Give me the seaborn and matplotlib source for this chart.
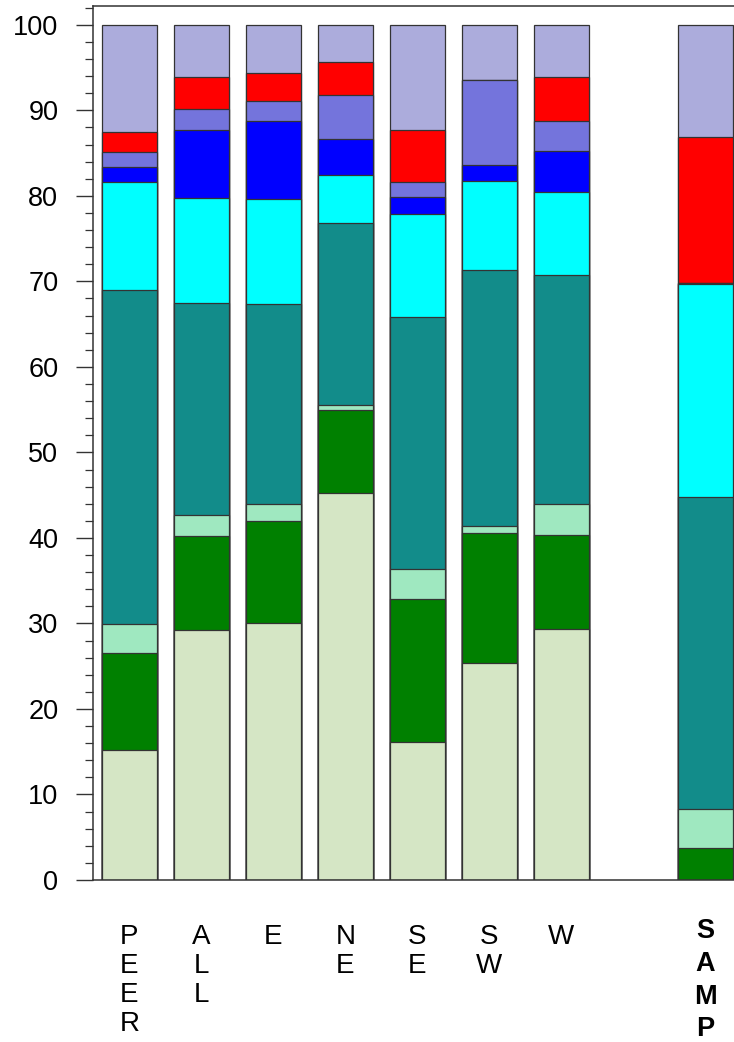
import numpy as np
import pandas as pd
import seaborn as sns
import matplotlib.pyplot as plt
from matplotlib.ticker import MultipleLocator
from matplotlib.transforms import ScaledTranslation

# categories and positions (gap before SAMP)
labels = ['PEER', 'ALL', 'E', 'NE', 'SE', 'SW', 'W', 'SAMP']
positions = [0, 1, 2, 3, 4, 5, 6, 8]

# segment sizes, bottom to top
s_lightgreen = [15.2, 29.2, 30.1, 45.2, 16.1, 25.4, 29.4, 0.0]
s_green      = [11.3, 11.0, 11.9, 9.8, 16.7, 15.2, 11.0, 3.7]
s_mint       = [3.4, 2.5, 2.0, 0.5, 3.6, 0.8, 3.6, 4.6]
s_teal       = [39.1, 24.8, 23.3, 21.3, 29.4, 29.9, 26.7, 36.5]
s_cyan       = [12.6, 12.3, 12.3, 5.6, 12.1, 10.4, 9.7, 24.9]
s_blue       = [1.8, 7.9, 9.1, 4.2, 2.0, 1.9, 4.9, 0.1]
s_slate      = [1.7, 2.5, 2.4, 5.2, 1.7, 9.9, 3.4, 0.0]
s_red        = [2.4, 3.7, 3.3, 3.8, 6.1, 0.0, 5.2, 17.1]
s_lavender   = [12.5, 6.1, 5.6, 4.4, 12.3, 6.5, 6.1, 13.1]

series = [s_lightgreen, s_green, s_mint, s_teal, s_cyan,
          s_blue, s_slate, s_red, s_lavender]
colors = ['#d5e6c5', '#008000', '#9fe8c0', '#128c8a', '#00ffff',
          '#0000ff', '#7474dc', '#ff0000', '#acacdc']

sns.set_style('white')
plt.rcParams['font.family'] = ['Liberation Sans', 'DejaVu Sans']
plt.rcParams['text.color'] = 'black'
plt.rcParams['xtick.color'] = 'black'
plt.rcParams['ytick.color'] = 'black'

fig = plt.figure(figsize=(7.34, 10.42), dpi=100)
ax = fig.add_axes([93 / 734, (1042 - 880) / 1042, (734 - 93) / 734, (880 - 6) / 1042])

# cumulative tops, drawn from the top layer down so lower layers overlay
tops = np.cumsum(np.array(series), axis=0)
for i in range(len(series) - 1, -1, -1):
    df = pd.DataFrame({'pos': positions, 'val': tops[i]})
    sns.barplot(data=df, x='pos', y='val', native_scale=True, width=0.76,
                color=colors[i], saturation=1, errorbar=None,
                edgecolor='#333333', linewidth=0.9, ax=ax)

ax.set_xlim(-0.507, 8.4)
ax.set_ylim(0, 102.2)
ax.set_xlabel('')
ax.set_ylabel('')

ax.yaxis.set_major_locator(MultipleLocator(10))
ax.yaxis.set_minor_locator(MultipleLocator(2))
ax.tick_params(axis='y', which='major', length=12, width=1, color='#333333',
               labelcolor='black', labelsize=19.5, pad=13, left=True)
ax.tick_params(axis='y', which='minor', length=6, width=0.9, color='#333333', left=True)

ax.set_xticks(positions)
ax.set_xticklabels(['\n'.join(l) for l in labels])
ax.tick_params(axis='x', length=0, pad=32, labelsize=20, labelcolor='black')
for t in ax.get_xticklabels():
    t.set_verticalalignment('top')
    t.set_linespacing(1.145)
samp = ax.get_xticklabels()[-1]
samp.set_fontweight('bold')
samp.set_fontsize(19.5)
samp.set_linespacing(1.33)
samp.set_transform(samp.get_transform() + ScaledTranslation(0, 0.06, fig.dpi_scale_trans))

for side in ['left', 'top', 'bottom']:
    ax.spines[side].set_color('#333333')
    ax.spines[side].set_linewidth(1.1)
ax.spines['right'].set_visible(False)

fig.savefig('out.png', dpi=100)
